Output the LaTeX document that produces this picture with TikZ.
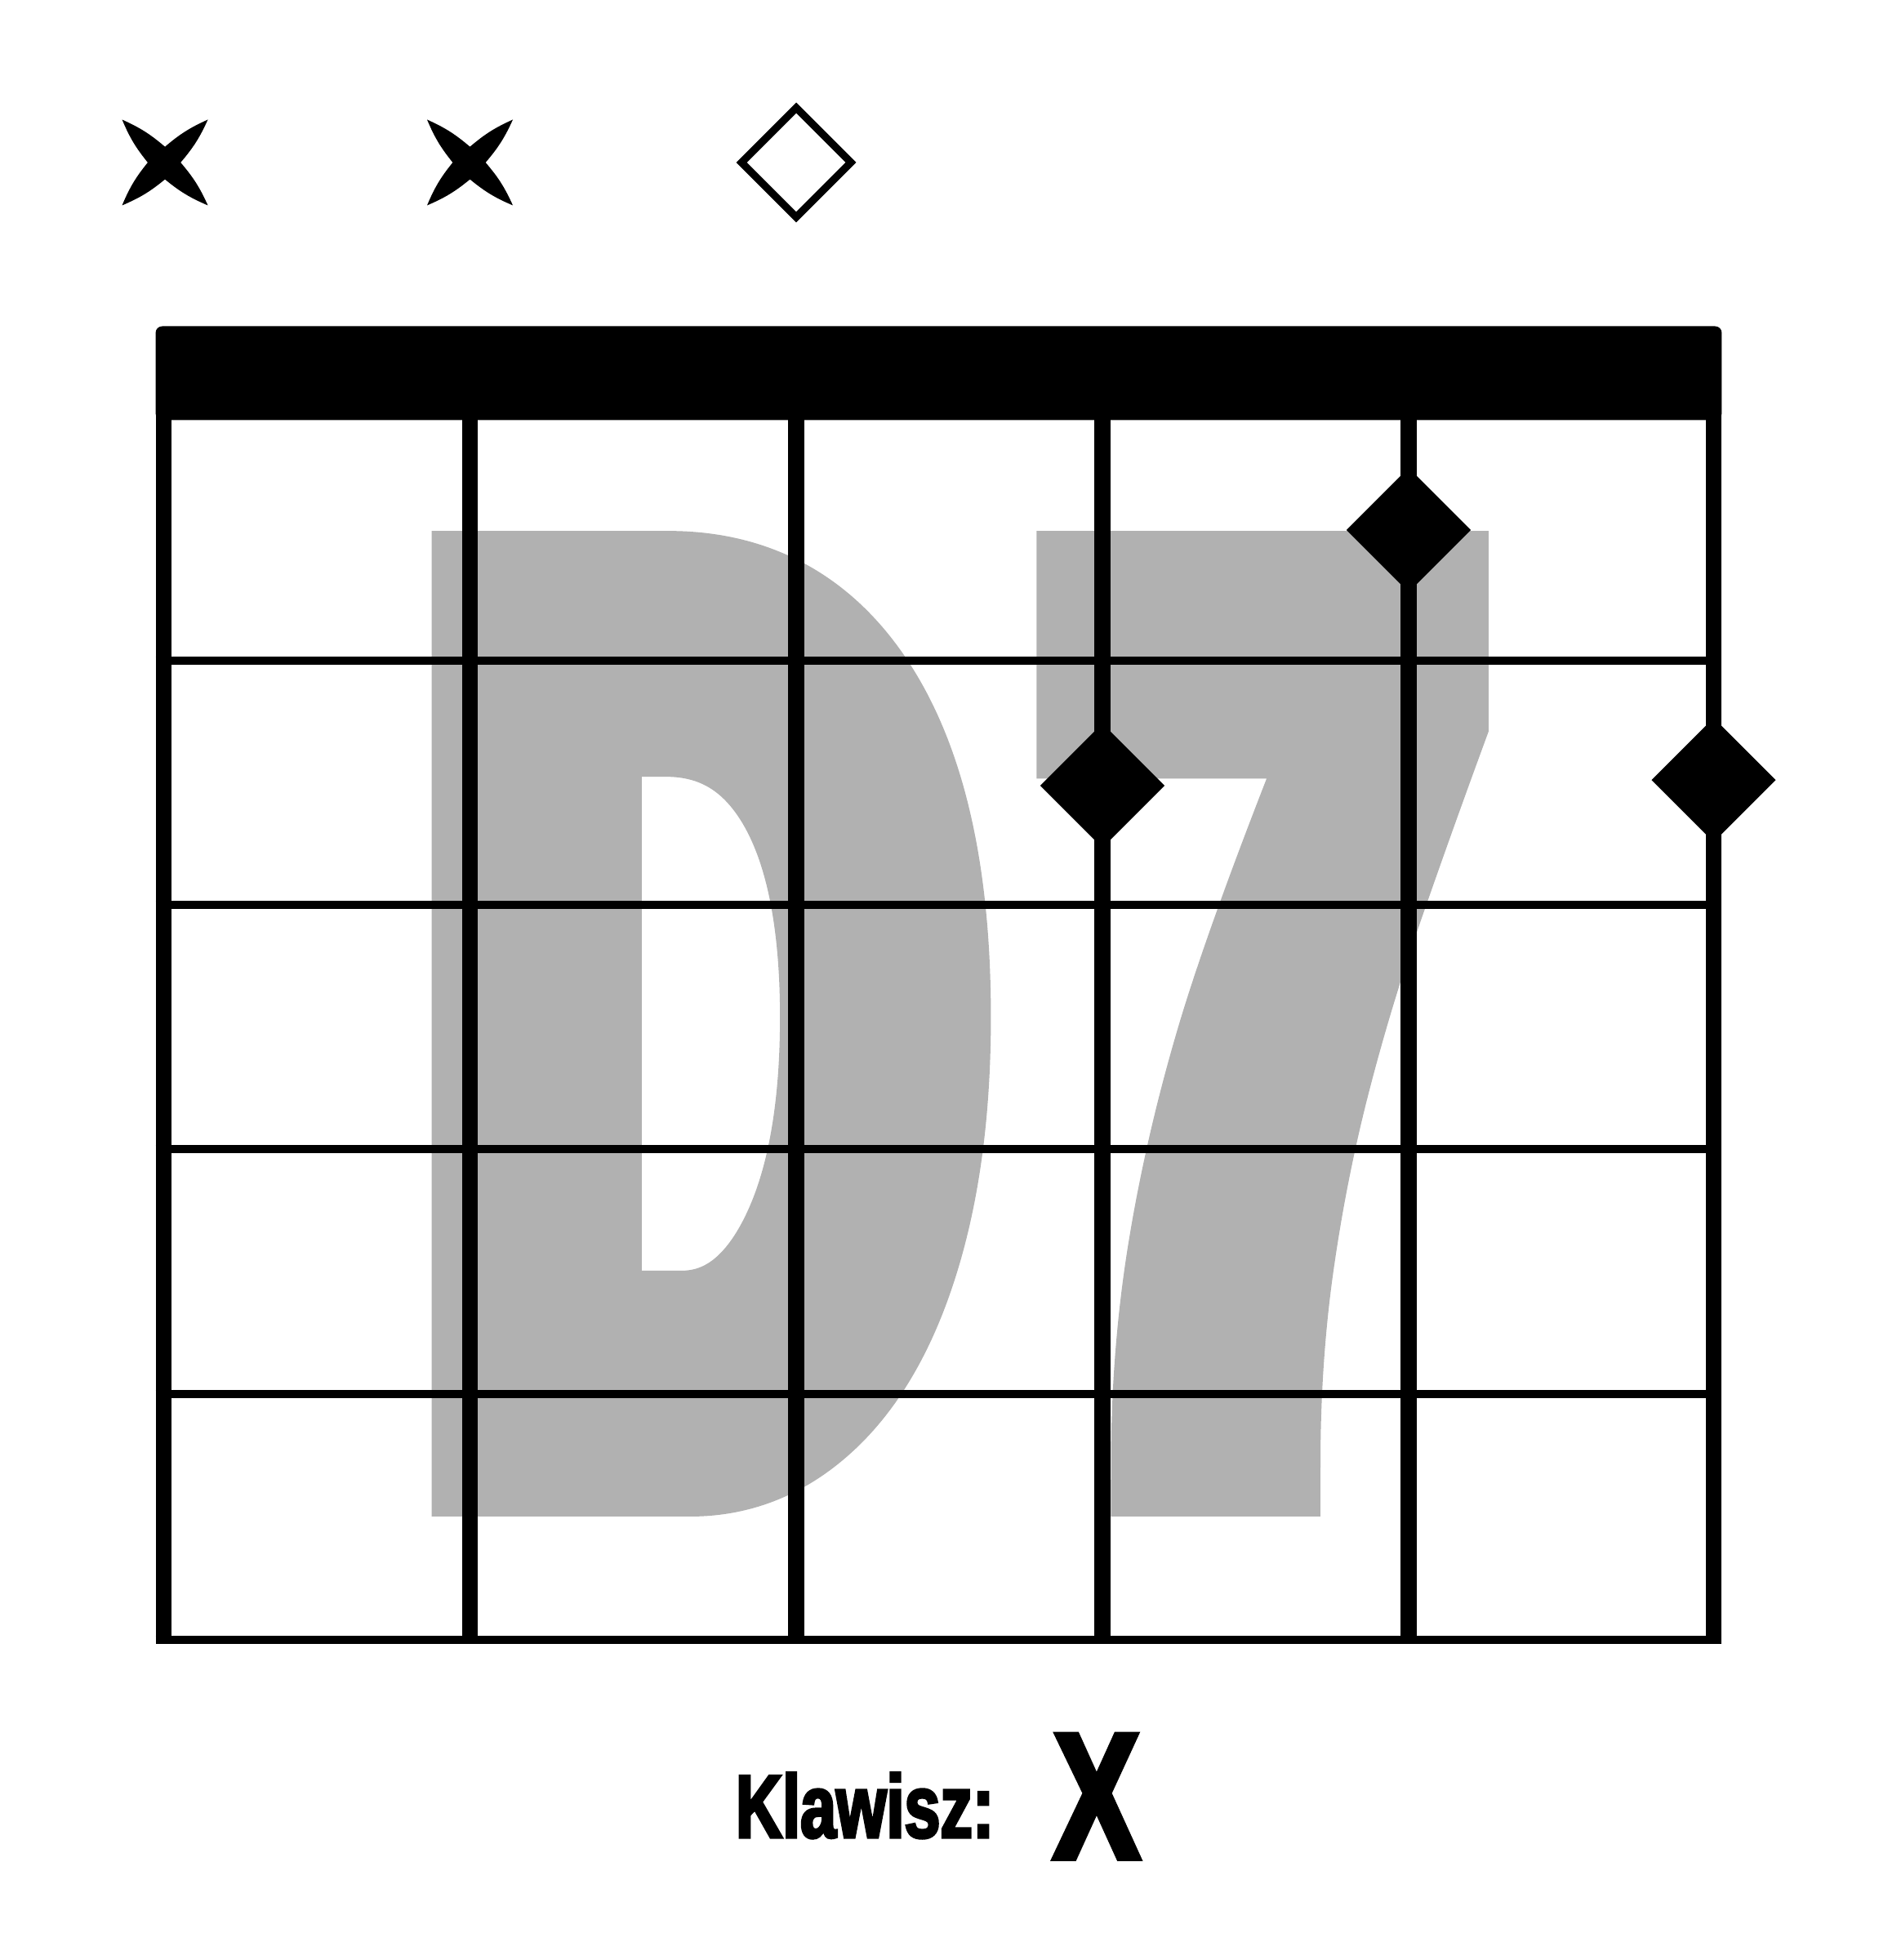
\documentclass[tikz,border=0pt]{standalone}
\usepackage{fontspec}
\usetikzlibrary{shapes.geometric}
\newfontfamily\chordfont[FakeStretch=0.58,FakeBold=8]{Liberation Sans}
\newfontfamily\keyfont[FakeStretch=0.72,FakeBold=3]{Liberation Sans}
\definecolor{chordgray}{RGB}{177,177,177}
\tikzset{
  gstring/.style={line width=0.13cm},
  fret/.style={line width=0.065cm},
  fingerdot/.style={diamond, fill=black, inner sep=0pt, minimum size=1cm},
  opendot/.style={diamond, draw=black, line width=0.06cm, inner sep=0pt, minimum size=0.9cm},
}
\begin{document}
\begin{tikzpicture}[x=1cm, y=-1cm]
    \useasboundingbox (0,0) rectangle (15.03,15.68);
    % Chord name
    \node[anchor=base west, inner sep=0pt, text=chordgray, font=\chordfont\bfseries\fontsize{292}{292}\selectfont] (chord) at (3.46,11.72) {D\kern0.69cm 7};
    % Strings
    \foreach \s/\x in {1/1.31, 2/3.76, 3/6.37, 4/8.82, 5/11.27, 6/13.71} {
        \coordinate (top\s) at (\x,3.0);
        \coordinate (bot\s) at (\x,13.152);
        \draw[gstring] (top\s) -- (bot\s);
    }
    % Frets
    \foreach \f/\y in {1/5.285, 2/7.24, 3/9.195, 4/11.15, 5/13.12} {
        \coordinate (fl\f) at (1.245,\y);
        \coordinate (fr\f) at (13.775,\y);
        \draw[fret] (fl\f) -- (fr\f);
    }
    % Nut
    \fill[rounded corners=1.5pt] (1.245,2.61) rectangle (13.775,3.36);
    % Muted strings
    \foreach \x in {1.32, 3.76} {
        \fill[shift={(\x,1.30)}] (-0.343,-0.343) to[bend left=8] (0,-0.126)
            to[bend left=8] (0.343,-0.343) to[bend left=8] (0.125,0)
            to[bend left=8] (0.343,0.343) to[bend left=8] (0,0.135)
            to[bend left=8] (-0.343,0.343) to[bend left=8] (-0.138,0)
            to[bend left=8] cycle;
    }
    % Open string
    \node[opendot] (open3) at (6.37,1.30) {};
    % Fingers
    \node[fingerdot] (f4) at (8.82,6.285) {};
    \node[fingerdot] (f5) at (11.27,4.24) {};
    \node[fingerdot] (f6) at (13.71,6.24) {};
    % Key
    \node[anchor=base west, inner sep=0pt, font=\keyfont\bfseries\fontsize{20.4}{24}\selectfont] (keylabel) at (5.88,14.70) {Klawisz:};
    \node[anchor=base west, inner sep=0pt, font=\keyfont\bfseries\fontsize{41}{48}\selectfont] (keyname) at (8.42,14.867) {X};
\end{tikzpicture}
\end{document}
